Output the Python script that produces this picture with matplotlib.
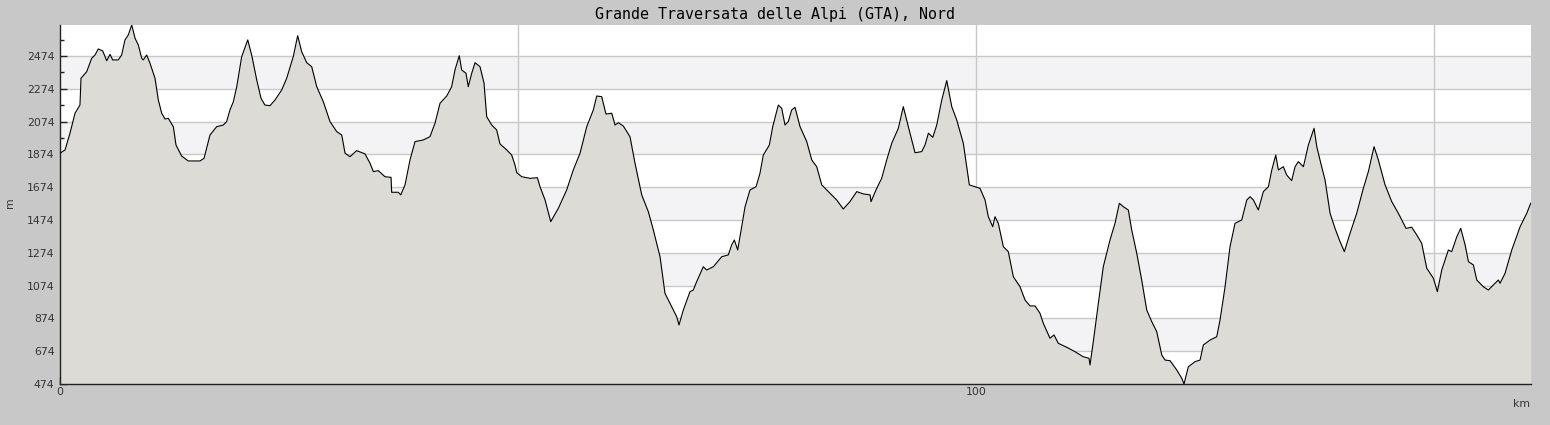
import matplotlib
matplotlib.use('Agg')
import matplotlib.pyplot as plt
import numpy as np

# профиль высот: расстояние (км) и высота (м)
km = [0.00, 0.55, 1.09, 1.64, 2.18, 2.29, 2.91, 3.46, 3.82, 4.18, 4.66, 5.10, 5.46, 5.75, 6.36, 6.73,
      7.09, 7.45, 7.83, 8.19, 8.55, 8.92, 9.09, 9.46, 9.82, 10.37, 10.73, 11.10, 11.46, 11.82, 12.37,
      12.66, 13.28, 14.00, 15.28, 15.72, 16.37, 17.10, 17.82, 18.19, 18.55, 18.92, 19.29, 19.83, 20.49,
      20.92, 21.47, 21.94, 22.37, 22.92, 23.47, 24.20, 24.74, 25.46, 25.94, 26.38, 26.93, 27.47, 28.02,
      28.74, 29.47, 30.20, 30.75, 31.11, 31.65, 32.38, 33.29, 33.84, 34.20, 34.74, 35.47, 36.13, 36.20,
      36.92, 37.19, 37.66, 38.20, 38.75, 39.65, 40.38, 40.93, 41.48, 42.21, 42.75, 43.11, 43.58, 43.84,
      44.31, 44.56, 44.94, 45.30, 45.84, 46.28, 46.57, 47.12, 47.66, 48.02, 48.76, 49.30, 49.66, 49.85,
      50.39, 51.30, 52.10, 52.39, 52.94, 53.56, 54.39, 55.30, 56.02, 56.76, 57.49, 58.21, 58.58, 59.12,
      59.59, 60.22, 60.58, 60.94, 61.48, 62.21, 62.76, 63.49, 64.21, 64.76, 65.49, 66.03, 66.77, 67.31,
      67.56, 68.03, 68.76, 69.12, 69.49, 70.21, 70.58, 71.31, 72.22, 72.94, 73.31, 73.60, 73.97, 74.40,
      74.77, 75.31, 75.97, 76.40, 76.76, 77.42, 77.79, 78.40, 78.77, 79.13, 79.49, 79.86, 80.22, 80.77,
      81.50, 82.05, 82.59, 83.14, 83.86, 84.77, 85.49, 86.22, 86.96, 87.68, 88.41, 88.52, 89.14, 89.68,
      90.23, 90.78, 91.50, 92.04, 92.59, 93.32, 94.05, 94.41, 94.78, 95.26, 95.69, 96.24, 96.78, 97.33,
      97.87, 98.59, 98.96, 99.25, 100.41, 100.96, 101.32, 101.80, 102.05, 102.41, 102.96, 103.50, 104.05,
      104.78, 105.33, 105.87, 106.42, 106.96, 107.32, 108.05, 108.49, 108.96, 109.88, 110.78, 111.69,
      112.31, 112.42, 112.78, 113.33, 113.87, 114.60, 115.15, 115.62, 116.06, 116.60, 116.97, 117.52,
      118.06, 118.61, 119.16, 119.70, 120.25, 120.61, 121.16, 121.89, 122.43, 122.68, 123.15, 123.88,
      124.43, 124.79, 125.52, 126.25, 126.61, 127.16, 127.70, 128.25, 128.98, 129.53, 129.89, 130.25,
      130.79, 131.34, 131.89, 132.26, 132.69, 132.98, 133.52, 133.89, 134.43, 134.80, 135.16, 135.71,
      136.25, 136.87, 137.17, 137.52, 138.07, 138.62, 139.16, 139.71, 140.18, 140.80, 141.53, 142.25,
      142.80, 143.42, 143.89, 144.62, 145.35, 146.07, 146.91, 147.53, 148.08, 148.62, 149.17, 149.89,
      150.33, 150.81, 151.53, 151.90, 152.45, 152.88, 153.36, 153.72, 154.26, 154.63, 155.35, 155.90,
      156.44, 156.99, 157.17, 157.72, 158.45, 159.36, 160.09, 160.52]
elev = [1881, 1901, 2003, 2125, 2175, 2338, 2378, 2460, 2480, 2517, 2505, 2445, 2484, 2450, 2450, 2480,
        2572, 2602, 2663, 2582, 2541, 2460, 2450, 2480, 2430, 2338, 2206, 2125, 2090, 2094, 2043,
        1931, 1864, 1834, 1834, 1850, 1992, 2043, 2053, 2074, 2145, 2195, 2287, 2470, 2572,
        2480, 2328, 2216, 2175, 2171, 2206, 2267, 2338, 2470, 2598, 2500, 2433, 2409, 2287,
        2195, 2074, 2013, 1992, 1881, 1860, 1897, 1877, 1820, 1769, 1775, 1738, 1734, 1643,
        1643, 1627, 1688, 1840, 1952, 1962, 1982, 2064, 2186, 2230, 2287, 2389, 2476, 2389,
        2369, 2287, 2369, 2433, 2409, 2308, 2104, 2053, 2023, 1938, 1901, 1870, 1809, 1763,
        1738, 1728, 1732, 1677, 1596, 1464, 1545, 1657, 1779, 1881, 2043, 2145, 2230, 2226,
        2120, 2125, 2053, 2067, 2047, 1982, 1820, 1627, 1525, 1413, 1250, 1027, 945, 884,
        834, 925, 1037, 1047, 1098, 1189, 1169, 1189, 1250, 1261, 1322, 1352, 1291, 1433,
        1555, 1657, 1677, 1759, 1870, 1931, 2043, 2175, 2155, 2053, 2074, 2145, 2161, 2043,
        1952, 1840, 1799, 1688, 1647, 1596, 1541, 1586, 1647, 1633, 1627, 1586, 1667, 1728,
        1840, 1942, 2033, 2165, 2043, 1884, 1891, 1931, 2003, 1978, 2053, 2206, 2324, 2165,
        2084, 1942, 1799, 1688, 1667, 1596, 1494, 1433, 1494, 1454, 1311, 1281, 1128,
        1067, 986, 950, 950, 905, 844, 753, 773, 722, 698, 671, 640,
        631, 590, 732, 966, 1189, 1352, 1454, 1576, 1555, 1535, 1413, 1271,
        1108, 925, 854, 793, 651, 620, 616, 559, 509, 474, 579, 610,
        620, 712, 742, 762, 864, 1067, 1311, 1454, 1474, 1596, 1616, 1596,
        1535, 1647, 1677, 1779, 1870, 1779, 1799, 1748, 1714, 1799, 1830, 1799,
        1931, 2033, 1921, 1840, 1718, 1515, 1423, 1342, 1281, 1393, 1515, 1667,
        1769, 1921, 1840, 1688, 1586, 1515, 1423, 1430, 1383, 1332, 1180, 1119,
        1037, 1169, 1291, 1281, 1372, 1423, 1322, 1220, 1200, 1108, 1067, 1047,
        1078, 1108, 1088, 1149, 1291, 1433, 1515, 1576]

y_ticks = [474, 674, 874, 1074, 1274, 1474, 1674, 1874, 2074, 2274, 2474]
x_major = [0, 50, 100, 150]
x_labels = ['0', '', '100', '']
title = 'Grande Traversata delle Alpi (GTA), Nord'

BG = '#c8c8c8'
FILL = '#dcdbd6'
BAND = '#f3f2f5'
GRID = '#c8c8c8'

fig = plt.figure(figsize=(15.5, 4.25), dpi=100, facecolor=BG)
ax = fig.add_axes([60 / 1550, 41 / 425, 1471 / 1550, 359 / 425])
ax.set_facecolor('white')

ymin, ymax = 474, 2663
xmax = 160.55

# чередующиеся полосы
for i in range(1, len(y_ticks) - 1, 2):
    ax.axhspan(y_ticks[i], y_ticks[i + 1], color=BAND, lw=0, zorder=0)

for y in y_ticks[1:]:
    ax.axhline(y, color=GRID, lw=1, zorder=1)
for x in x_major[1:]:
    ax.axvline(x, color=GRID, lw=1, zorder=1)

ax.fill_between(km, elev, ymin, color=FILL, lw=0, zorder=2)
ax.plot(km, elev, color='black', lw=0.8, zorder=3)

ax.set_xlim(0, xmax)
ax.set_ylim(ymin, ymax)

ax.set_yticks(y_ticks)
ax.set_yticks([y + 100 for y in y_ticks], minor=True)
ax.set_xticks(x_major)
ax.set_xticklabels(x_labels)
ax.set_xticks(np.arange(0, 161, 10), minor=True)

ax.tick_params(axis='both', which='major', direction='in', length=5, width=1,
               color='#222222', labelsize=7.8, labelcolor='#333333', pad=2)
ax.tick_params(axis='both', which='minor', direction='in', length=3, width=1, color='#222222')
ax.tick_params(axis='y', which='major', pad=4)

for side in ['top', 'right']:
    ax.spines[side].set_visible(False)
for side in ['left', 'bottom']:
    ax.spines[side].set_color('#222222')
    ax.spines[side].set_linewidth(1)

fig.text(0.5, 1 - 14 / 425, title, ha='center', va='center',
         family='DejaVu Sans Mono', fontsize=10.8, color='black')
fig.text(10 / 1550, 1 - 203 / 425, 'm', rotation=90, ha='center', va='center',
         fontsize=7.8, color='#333333')
fig.text(1521 / 1550, 1 - 404 / 425, 'km', ha='center', va='center',
         fontsize=7.8, color='#333333')

fig.savefig('out.png', dpi=100, facecolor=BG)
